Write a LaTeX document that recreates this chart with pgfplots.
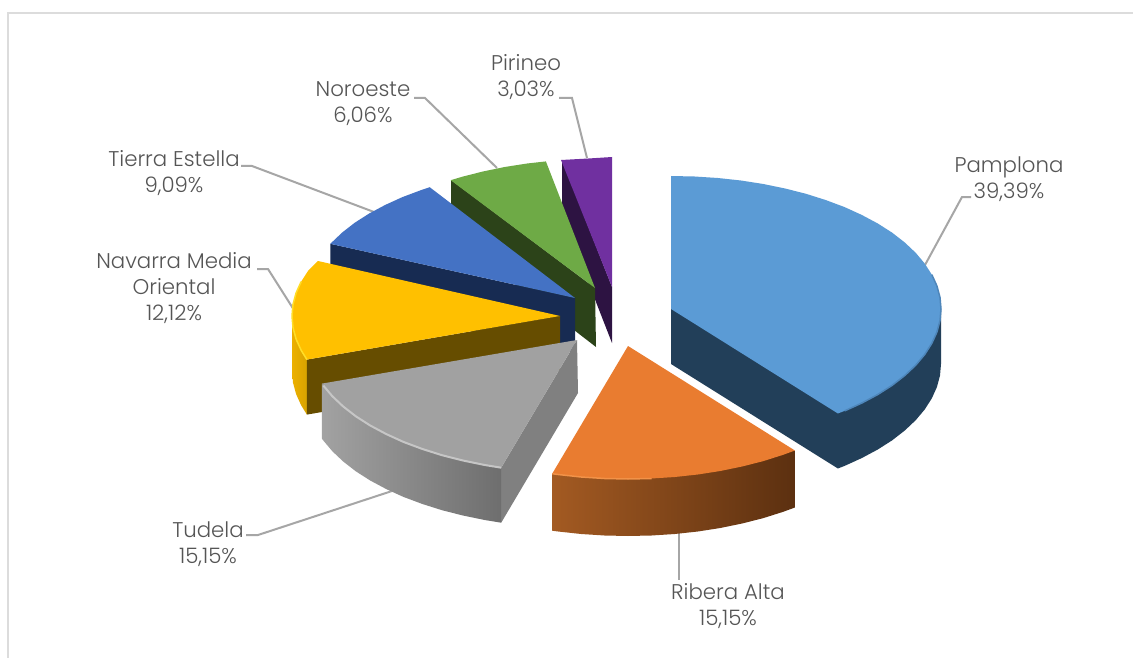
\documentclass[border=0pt]{standalone}
\usepackage{pgfplots}
\pgfplotsset{compat=1.18}
\usepackage{fontspec}
\setmainfont{Poppins}[UprightFont=* Light]

\definecolor{lbl}{HTML}{555555}
\definecolor{lead}{HTML}{A6A6A6}
\definecolor{frame}{HTML}{DCDCDC}
\definecolor{pirTop}{HTML}{7030A0}
\definecolor{pirSide}{HTML}{2D1342}
\definecolor{norTop}{HTML}{6EAA46}
\definecolor{norSide}{HTML}{2C4319}
\definecolor{tieTop}{HTML}{4472C4}
\definecolor{tieSide}{HTML}{172B52}
\definecolor{navTop}{HTML}{FFC000}
\definecolor{navSide}{HTML}{664D00}
\definecolor{navWallL}{HTML}{ECB000}
\definecolor{navWallR}{HTML}{D8A300}
\definecolor{navEdge}{HTML}{FFDE28}
\definecolor{tudTop}{HTML}{A1A1A1}
\definecolor{tudSide}{HTML}{808080}
\definecolor{tudWallL}{HTML}{A2A2A2}
\definecolor{tudWallR}{HTML}{6E6E6E}
\definecolor{tudEdge}{HTML}{C6C6C6}
\definecolor{ribTop}{HTML}{E97C30}
\definecolor{ribWallL}{HTML}{A35A22}
\definecolor{ribWallR}{HTML}{5C3010}
\definecolor{ribEdge}{HTML}{F29248}
\definecolor{pamTop}{HTML}{5B9BD5}
\definecolor{pamSide}{HTML}{223F59}
\definecolor{pamEdge}{HTML}{4E86BA}

\begin{document}
\begin{tikzpicture}
\begin{axis}[
    width=1133pt, height=658pt, scale only axis,
    xmin=0, xmax=1133, ymin=0, ymax=658, y dir=reverse,
    axis lines=none,
    nodes={font=\fontsize{21.3}{26}\selectfont, text=lbl, align=center, inner sep=0pt},
    ]
% page
\addplot[fill=white, draw=none] coordinates {(0,0) (1133,0) (1133,658) (0,658)} --cycle;
\addplot[frame, line width=2.5pt] coordinates {(8,658) (8,13) (1133,13)};

% leaders
\addplot[lead, line width=2pt] coordinates {(559,98) (572,98) (587,158)};
\addplot[lead, line width=2pt] coordinates {(414,98) (425,98) (497,168)};
\addplot[lead, line width=2pt] coordinates {(241,166) (252,166) (374,212)};
\addplot[lead, line width=2pt] coordinates {(257,269) (268,269) (294,310)};
\addplot[lead, line width=2pt] coordinates {(246,535) (258,535) (392,491)};
\addplot[lead, line width=2pt] coordinates {(679,530) (679,580)};
\addplot[lead, line width=2pt] coordinates {(925,265) (962,197) (971,197)};

% Pirineo
\addplot[fill=pirSide, draw=none] coordinates {(562,160) (562,215) (612,343) (612,287)} --cycle;
\addplot[fill=pirTop, draw=none] coordinates {(612,287) (561,160) (588.5,158.5) (612,157)} --cycle;

% Noroeste
\addplot[fill=norSide, draw=none] coordinates {(595,288) (451,180) (451,235) (596,347)} --cycle;
\addplot[fill=norTop, draw=none] coordinates {(595,288) (450.7,180.2) (462,176.8) (482.9,171.5) (504.7,167) (527.1,163.5) (545.9,161.4)} --cycle;

% Tierra Estella
\addplot[fill=tieSide, draw=none] coordinates {(575,298) (330.3,243.8) (330.3,298.8) (575,353)} --cycle;
\addplot[fill=tieTop, draw=none] coordinates {(575,298) (330.3,243.8) (342.2,232.5) (354.8,222.7) (369.2,213.5) (385.1,205) (402.4,197.1) (421.1,190.1) (429.7,187.2)} --cycle;

% Navarra Media Oriental
\addplot[left color=navWallL, right color=navWallR, draw=none] coordinates {(306.9,359.6) (301.2,350.4) (296.1,339.1) (293,327.6) (292,316) (292,371) (293,382.6) (296.1,394.1) (301.2,405.4) (306.9,414.6)} --cycle;
\addplot[fill=navSide, draw=none] coordinates {(560,316) (306.9,359.6) (306.9,414.6) (560,371)} --cycle;
\addplot[fill=navTop, draw=none] coordinates {(560,316) (306.9,359.6) (301.2,350.4) (296.1,339.1) (293,327.6) (292,316) (293,304.4) (296.1,292.9) (301.2,281.6) (308.3,270.5) (318,261)} --cycle;
\addplot[navEdge, line width=1.5pt] coordinates {(306.9,359.6) (301.2,350.4) (296.1,339.1) (293,327.6) (292,316) (293,304.4) (296.1,292.9) (301.2,281.6)};

% Tudela
\addplot[fill=tudSide, draw=none] coordinates {(577,340) (578,393) (501.2,522.7) (501.2,467.7)} --cycle;
\addplot[left color=tudWallL, right color=tudWallR, draw=none] coordinates {(501.2,467.7) (484.7,465) (462.9,460.5) (442,455.2) (422.1,448.9) (403.4,441.9) (386.1,434) (370.2,425.5) (355.8,416.3) (343.2,406.5) (332.3,396.2) (323.3,385.5) (321.9,383.6) (321.9,438.6) (323.3,440.5) (332.3,451.2) (343.2,461.5) (355.8,471.3) (370.2,480.5) (386.1,489) (403.4,496.9) (422.1,503.9) (442,510.2) (462.9,515.5) (484.7,520) (501.2,522.7)} --cycle;
\addplot[fill=tudTop, draw=none] coordinates {(577,340) (501.2,467.7) (484.7,465) (462.9,460.5) (442,455.2) (422.1,448.9) (403.4,441.9) (386.1,434) (370.2,425.5) (355.8,416.3) (343.2,406.5) (332.3,396.2) (323.3,385.5) (321.9,383.6)} --cycle;
\addplot[tudEdge, line width=2pt] coordinates {(501.2,467.7) (484.7,465) (462.9,460.5) (442,455.2) (422.1,448.9) (403.4,441.9) (386.1,434) (370.2,425.5) (355.8,416.3) (343.2,406.5) (332.3,396.2) (323.3,385.5)};

% Ribera Alta
\addplot[left color=ribWallL, right color=ribWallR, draw=none] coordinates {(794.9,450.5) (794.9,507.5) (782.9,511.9) (763,518.2) (742.1,523.5) (720.3,528) (697.9,531.5) (674.9,534) (651.5,535.5) (628,536) (604.5,535.5) (581.1,534) (558.1,531.5) (552.2,530.7) (552.2,473.7)} --cycle;
\addplot[fill=ribTop, draw=none] coordinates {(628,346) (794.9,450.5) (782.9,454.9) (763,461.2) (742.1,466.5) (720.3,471) (697.9,474.5) (674.9,477) (651.5,478.5) (628,479) (604.5,478.5) (581.1,477) (558.1,474.5) (552.2,473.7)} --cycle;
\addplot[ribEdge, line width=1.5pt] coordinates {(552.2,473.7) (558.1,474.5) (581.1,477) (604.5,478.5) (628,479) (651.5,478.5)};

% Pamplona
\addplot[fill=pamSide, draw=none] coordinates {(671,309) (671,364) (837.9,468.5) (844.6,465.9) (861.9,458) (877.8,449.5) (892.2,440.3) (904.8,430.5) (915.7,420.2) (924.7,409.5) (931.8,398.4) (936.9,387.1) (940,375.6) (941,364) (941,309)} --cycle;
\addplot[fill=pamTop, draw=none] coordinates {(671,309) (671,176) (694.5,176.5) (717.9,178) (740.9,180.5) (763.3,184) (785.1,188.5) (806,193.8) (825.9,200.1) (844.6,207.1) (861.9,215) (877.8,223.5) (892.2,232.7) (904.8,242.5) (915.7,252.8) (924.7,263.5) (931.8,274.6) (936.9,285.9) (940,297.4) (941,309) (940,320.6) (936.9,332.1) (931.8,343.4) (924.7,354.5) (915.7,365.2) (904.8,375.5) (892.2,385.3) (877.8,394.5) (861.9,403) (844.6,410.9) (837.9,413.5)} --cycle;
\addplot[pamEdge, line width=1.5pt] coordinates {(931.8,274.6) (936.9,285.9) (940,297.4) (941,309) (940,320.6) (936.9,332.1) (931.8,343.4) (924.7,354.5) (915.7,365.2) (904.8,375.5) (892.2,385.3) (877.8,394.5) (861.9,403) (844.6,410.9)};

% labels
\node at (axis cs:526,77) {Pirineo\\3,03\%};
\node at (axis cs:363,104) {Noroeste\\6,06\%};
\node at (axis cs:174,173) {Tierra Estella\\9,09\%};
\node at (axis cs:174,288.5) {Navarra Media\\Oriental\\12,12\%};
\node at (axis cs:1009,179) {Pamplona\\39,39\%};
\node at (axis cs:728,606) {Ribera Alta\\15,15\%};
\node at (axis cs:208,544) {Tudela\\15,15\%};
\end{axis}
\end{tikzpicture}
\end{document}
